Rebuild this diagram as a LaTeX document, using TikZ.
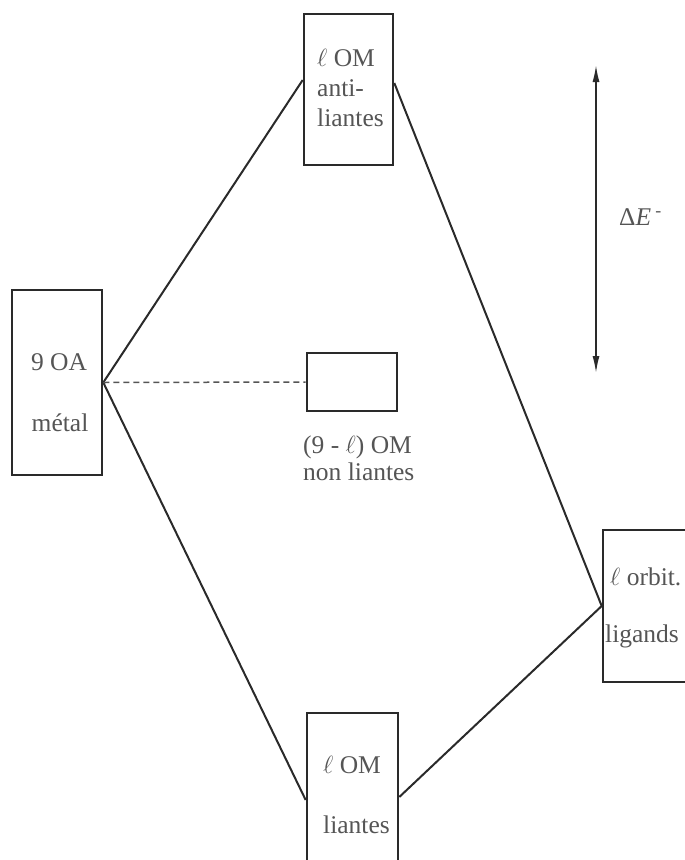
\documentclass[tikz,border=0pt]{standalone}
\usepackage{fontspec}
\setmainfont{Liberation Serif}
\usetikzlibrary{arrows.meta,calc}
\definecolor{ink}{HTML}{2A2A2A}
\definecolor{txt}{HTML}{555555}
\newcommand{\lorb}{\(\ell\)}
\begin{document}
\begin{tikzpicture}[x=1pt,y=-1pt,
  level/.style={draw=ink,line width=2.6pt,rectangle,inner sep=0pt},
  lbl/.style={text=txt,font=\fontsize{25.5}{30}\selectfont,inner sep=0pt},
  link/.style={draw=ink,line width=2pt},
  gap/.style={draw=ink!80,line width=1.5pt,dash pattern=on 6pt off 4pt}]
\useasboundingbox (0,0) rectangle (685,860);

% energy levels
\node[level,minimum width=90pt,minimum height=185pt] (metal) at (57,382.5) {};
\node[level,minimum width=89pt,minimum height=151pt] (anti)  at (348.5,89.5) {};
\node[level,minimum width=90pt,minimum height=58pt]  (nonl)  at (352,382) {};
\node[level,minimum width=90pt,minimum height=152pt] (lig)   at (648,606) {};
\node[level,minimum width=91pt,minimum height=151pt] (liant) at (352.5,788.5) {};

% labels
\node[lbl] (m1) at (59,362) {9 OA};
\node[lbl] (m2) at (60,423) {métal};
\node[lbl,anchor=west,align=left] (a1) at (317,88) {\lorb{} OM\\anti-\\liantes};
\node[lbl,anchor=west,align=left] (n1) at (303,458) {(9 - \lorb) OM\\[-3pt]non liantes};
\node[lbl,anchor=west] (l1) at (610,577) {\lorb{} orbit.};
\node[lbl,anchor=west] (l2) at (605,636) {ligands};
\node[lbl,anchor=west] (b1) at (323,765) {\lorb{} OM};
\node[lbl,anchor=west] (b2) at (323,825) {liantes};

% correlation lines
\draw[link] (metal.east) -- ([yshift=9.5pt]anti.west);
\draw[link] (metal.east) -- ([yshift=-11.5pt]liant.west);
\draw[link] ([yshift=6.5pt]anti.east) -- (lig.west);
\draw[link] (lig.west) -- ([yshift=-8.5pt]liant.east);
\draw[gap] (metal.east) -- (nonl.west);

% energy gap
\coordinate (gt) at (596,65);
\coordinate (gb) at (596,373);
\draw[draw=ink,line width=1.6pt,{Latex[length=17pt,width=7pt]}-{Latex[length=17pt,width=7pt]}] (gt) -- (gb);
\node[lbl,anchor=west] (de) at (619,217) {Δ\textit{E}\,\textsuperscript{-}};
\end{tikzpicture}
\end{document}
